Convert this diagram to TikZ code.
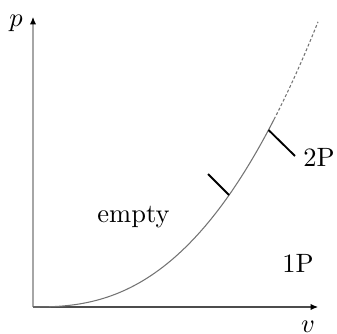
\documentclass[tikz,border=0pt]{standalone}
\usetikzlibrary{arrows.meta}
\begin{document}
\begin{tikzpicture}[x=0.3775pt,y=-0.3775pt,
  axis/.style={line width=0.4pt,-{Latex[length=2.8pt,width=2.4pt,color=black]}},
  curve/.style={line width=0.4pt,draw=black!55},
  tickmark/.style={line width=0.7pt,draw=black},
  lbl/.style={inner sep=0pt,anchor=base,font=\fontsize{10}{12}\selectfont}]
\useasboundingbox (0,0) rectangle (337,334);
\coordinate (O) at (33,307);
\coordinate (ytip) at (33,17);
\coordinate (xtip) at (318,307);
\draw[axis,draw=black!35] (O) -- (ytip);
\draw[axis,draw=black!70] (O) -- (xtip);
\draw[curve] plot[domain=0:241,samples=120] ({33+\x},{307-20.8*(\x/100)^2.5});
\draw[curve,dash pattern=on 1.1pt off 0.8pt] plot[domain=241:285,samples=40] ({33+\x},{307-20.8*(\x/100)^2.5});
\coordinate (t1a) at (229,195);
\coordinate (t1b) at (208,174);
\coordinate (t2a) at (268.5,130);
\coordinate (t2b) at (295,156);
\draw[tickmark] (t1a) -- (t1b);
\draw[tickmark] (t2a) -- (t2b);
\node[lbl] (plbl) at (16,27) {$p$};
\node[lbl] (vlbl) at (308,333) {$v$};
\node[lbl] (empty) at (133.5,223) {empty};
\node[lbl] (twoP) at (319,167) {2P};
\node[lbl] (oneP) at (298,273) {1P};
\end{tikzpicture}
\end{document}
